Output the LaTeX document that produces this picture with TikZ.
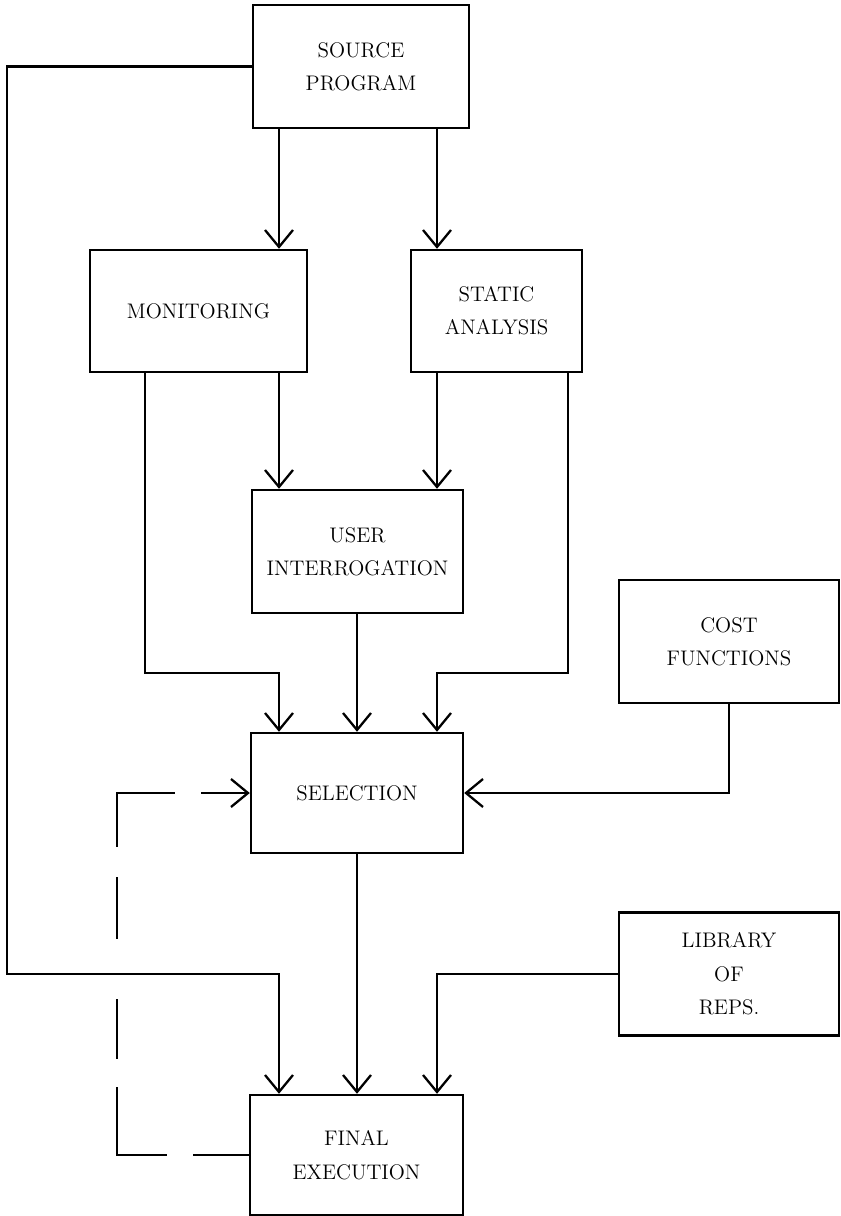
\documentclass[tikz,border=0pt]{standalone}
\usetikzlibrary{arrows.meta}
\tikzset{
  box/.style = {draw, line width = 1.4pt, align = center, inner sep = 0pt,
    font = \fontsize{12}{19}\selectfont},
  flow/.style = {line width = 1.4pt,
    -{Straight Barb[length = 0.34cm, width = 0.56cm, line width = 1.3pt]}}
}
\begin{document}
\begin{tikzpicture}[x = 0.02cm, y = -0.02cm]
\useasboundingbox (0, 0) rectangle (840, 1216);
\node (src) [box, minimum width = 4.32cm, minimum height = 2.46cm] at (361, 66.5) {SOURCE\\PROGRAM};
\node (mon) [box, minimum width = 4.34cm, minimum height = 2.44cm] at (198.5, 311) {MONITORING};
\node (sta) [box, minimum width = 3.42cm, minimum height = 2.44cm] at (496.5, 311) {STATIC\\ANALYSIS};
\node (ui) [box, minimum width = 4.22cm, minimum height = 2.46cm] at (357.5, 551.5) {USER\\INTERROGATION};
\node (cost) [box, minimum width = 4.4cm, minimum height = 2.46cm] at (729, 641.5) {COST\\FUNCTIONS};
\node (sel) [box, minimum width = 4.24cm, minimum height = 2.4cm] at (357, 793) {SELECTION};
\node (lib) [box, minimum width = 4.4cm, minimum height = 2.46cm] at (729, 974) {LIBRARY\\OF\\REPS.};
\node (fin) [box, minimum width = 4.26cm, minimum height = 2.4cm] at (356.5, 1155) {FINAL\\EXECUTION};
\coordinate (c0) at (7, 0);
\coordinate (c1) at (279, 0);
\coordinate (c2) at (437, 0);
\coordinate (c3) at (357, 0);
\coordinate (c4) at (145, 0);
\coordinate (c5) at (568, 0);
\coordinate (c7) at (117, 0);
\coordinate (r1) at (0, 673);
\draw [flow] (src.south -| c1) -- (mon.north -| c1);
\draw [flow] (src.south -| c2) -- (sta.north -| c2);
\draw [flow] (mon.south -| c1) -- (ui.north -| c1);
\draw [flow] (sta.south -| c2) -- (ui.north -| c2);
\draw [flow] (mon.south -| c4) |- (r1 -| c1) -- (sel.north -| c1);
\draw [flow] (sta.south -| c5) |- (r1 -| c2) -- (sel.north -| c2);
\draw [flow] (ui.south -| c3) -- (sel.north -| c3);
\draw [flow] (cost.south) |- (sel.east);
\draw [flow] (sel.south -| c3) -- (fin.north -| c3);
\draw [flow] (lib.west) -| (fin.north -| c2);
\draw [flow] (src.west) -| (c0 |- lib.west) -| (fin.north -| c1);
%\draw [flow, dashed] (fin.west) -| (c7 |- sel.west) -- (sel.west);
\draw [flow, dash pattern = on 1.12cm off 0.52cm on 2.36cm off 0.56cm on 1.2cm off 1.2cm on 1.24cm off 0.6cm on 2.24cm off 0.52cm on 1.2cm off 1cm]
  (fin.west) -| (c7 |- sel.west) -- (sel.west);
\end{tikzpicture}
\end{document}
